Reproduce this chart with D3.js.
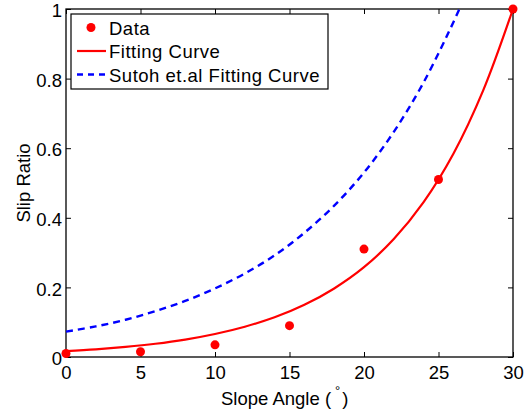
<!DOCTYPE html>
<html>
<head>
<meta charset="utf-8">
<script src="https://cdn.jsdelivr.net/npm/d3@7"></script>
<style>
  body { margin: 0; background: #fff; }
  text { font-family: "Liberation Sans", Arial, sans-serif; fill: #000; }
</style>
</head>
<body>
<div id="chart"></div>
<script>
// measured slip ratio
var dataAngle = [0, 5, 10, 15, 20, 25, 30];
var dataSlip = [0.01, 0.015, 0.035, 0.09, 0.31, 0.51, 1.0];

// fitting curve
var fitAngle = [0, 2, 4, 6, 8, 10, 12, 14, 16, 18, 20, 22, 24, 26, 28, 30];
var fitSlip = [0.017, 0.022, 0.029, 0.038, 0.050, 0.066, 0.087, 0.114, 0.150, 0.197, 0.258, 0.339, 0.445, 0.584, 0.766, 1.0];

// Sutoh et.al curve
var sutohAngle = [0, 2, 4, 6, 8, 10, 12, 14, 16, 18, 20, 22, 24, 26, 26.4];
var sutohSlip = [0.073, 0.088, 0.107, 0.132, 0.161, 0.197, 0.240, 0.292, 0.357, 0.435, 0.530, 0.647, 0.789, 0.962, 1.0];

var xTicks = [0, 5, 10, 15, 20, 25, 30];
var yTicks = [0, 0.2, 0.4, 0.6, 0.8, 1];

var legendLabels = ["Data", "Fitting Curve", "Sutoh et.al Fitting Curve"];

var W = 525, H = 417;
var margin = {top: 9, right: 12, bottom: 60, left: 66};
var width = W - margin.left - margin.right,
    height = H - margin.top - margin.bottom;

var svg = d3.select("#chart").append("svg")
    .attr("width", W).attr("height", H);
var g = svg.append("g")
    .attr("transform", "translate(" + margin.left + "," + margin.top + ")");

var x = d3.scaleLinear().domain([0, 30]).range([0, width]);
var y = d3.scaleLinear().domain([0, 1]).range([height, 0]);

// axes with inward ticks, matlab style box
function styleAxis(sel) {
    sel.select(".domain").remove();
    sel.selectAll(".tick line").attr("stroke", "#000").attr("stroke-width", 1);
}
g.append("g").attr("transform", "translate(0," + height + ")")
    .call(d3.axisBottom(x).tickValues(xTicks).tickSizeInner(-5).tickPadding(9).tickFormat(d3.format("d")))
    .call(styleAxis)
    .selectAll("text").style("font-size", "18.5px").attr("font-family", null);
g.append("g")
    .call(d3.axisTop(x).tickValues(xTicks).tickSizeInner(-5).tickFormat(""))
    .call(styleAxis);
g.append("g")
    .call(d3.axisLeft(y).tickValues(yTicks).tickSizeInner(-5).tickPadding(4).tickFormat(function(d) { return d3.format("")(d); }))
    .call(styleAxis)
    .selectAll("text").style("font-size", "18.5px").attr("dy", "0.42em").attr("font-family", null);
g.append("g").attr("transform", "translate(" + width + ",0)")
    .call(d3.axisRight(y).tickValues(yTicks).tickSizeInner(-5).tickFormat(""))
    .call(styleAxis);

g.append("rect")
    .attr("width", width).attr("height", height)
    .attr("fill", "none").attr("stroke", "#000").attr("stroke-width", 1.3);

// curves
var line = d3.line().curve(d3.curveCatmullRom)
    .x(function(d) { return x(d[0]); })
    .y(function(d) { return y(d[1]); });

g.append("path")
    .datum(sutohAngle.map(function(a, i) { return [a, sutohSlip[i]]; }))
    .attr("d", line)
    .attr("fill", "none").attr("stroke", "#0000ff").attr("stroke-width", 2.4)
    .attr("stroke-dasharray", "7,5");

g.append("path")
    .datum(fitAngle.map(function(a, i) { return [a, fitSlip[i]]; }))
    .attr("d", line)
    .attr("fill", "none").attr("stroke", "#ff0000").attr("stroke-width", 2.2);

g.selectAll("circle.pt")
    .data(dataAngle.map(function(a, i) { return [a, dataSlip[i]]; }))
    .enter().append("circle")
    .attr("class", "pt")
    .attr("cx", function(d) { return x(d[0]); })
    .attr("cy", function(d) { return y(d[1]); })
    .attr("r", 4.5)
    .attr("fill", "#ff0000");

// axis labels
svg.append("text")
    .attr("x", 221).attr("y", 405)
    .style("font-size", "18.5px")
    .call(function(t) {
        t.append("tspan").text("Slope Angle (");
        t.append("tspan").attr("dx", 4).attr("dy", -10).style("font-size", "13px").text("°");
        t.append("tspan").attr("dx", 2).attr("dy", 10).text(")");
    });

svg.append("text")
    .attr("transform", "translate(30," + (margin.top + height / 2) + ") rotate(-90)")
    .attr("text-anchor", "middle").style("font-size", "18.5px")
    .text("Slip Ratio");

// legend
var leg = svg.append("g").attr("transform", "translate(71,14)");
leg.append("rect")
    .attr("width", 257).attr("height", 75)
    .attr("fill", "#fff").attr("stroke", "#000").attr("stroke-width", 1.2);

var rowY = [13.5, 37, 60.5];
leg.append("circle").attr("cx", 20).attr("cy", rowY[0]).attr("r", 4.5).attr("fill", "#ff0000");
leg.append("line").attr("x1", 6).attr("x2", 35).attr("y1", rowY[1]).attr("y2", rowY[1])
    .attr("stroke", "#ff0000").attr("stroke-width", 2.2);
leg.append("line").attr("x1", 6).attr("x2", 35).attr("y1", rowY[2]).attr("y2", rowY[2])
    .attr("stroke", "#0000ff").attr("stroke-width", 2.4).attr("stroke-dasharray", "6,5");

leg.selectAll("text.lbl")
    .data(legendLabels)
    .enter().append("text")
    .attr("class", "lbl")
    .attr("x", 38)
    .attr("y", function(d, i) { return rowY[i] + 7; })
    .style("font-size", "18.5px").style("letter-spacing", "0.5px")
    .text(function(d) { return d; });
</script>
</body>
</html>
